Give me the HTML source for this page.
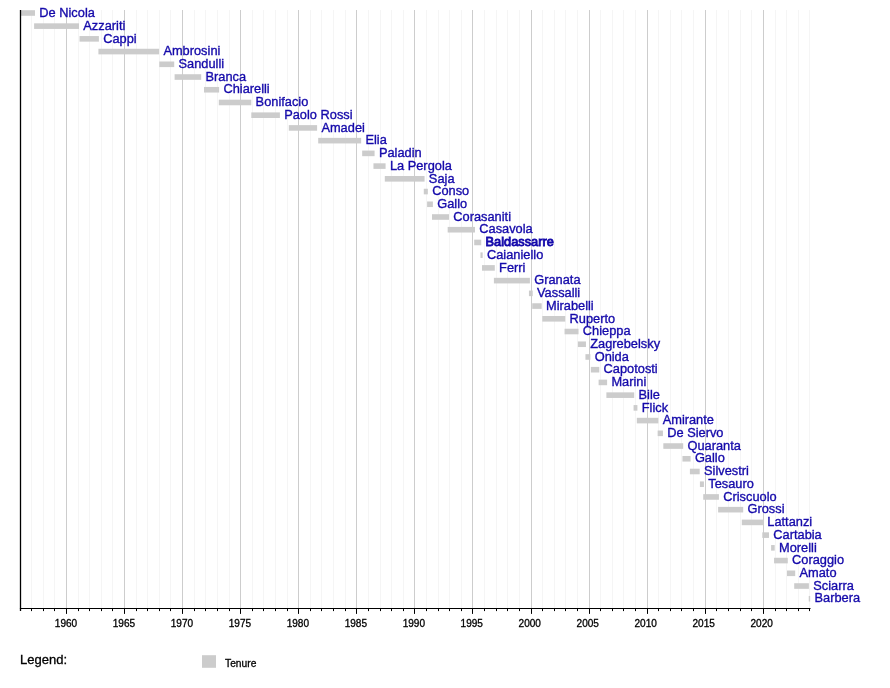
<!DOCTYPE html><html><head><meta charset="utf-8"><title>Timeline</title><style>html,body{margin:0;padding:0;background:#fff}svg{display:block}text{font-family:"Liberation Sans",sans-serif}</style></head><body>
<svg width="890" height="688" viewBox="0 0 890 688">
<rect width="890" height="688" fill="#fff"/>
<g><line x1="31.50" y1="10" x2="31.50" y2="608.5" stroke="#f5f5f5" stroke-width="1"/><line x1="43.50" y1="10" x2="43.50" y2="608.5" stroke="#f5f5f5" stroke-width="1"/><line x1="54.50" y1="10" x2="54.50" y2="608.5" stroke="#f5f5f5" stroke-width="1"/><line x1="66.50" y1="10" x2="66.50" y2="608.5" stroke="#cdcdcd" stroke-width="1"/><line x1="78.50" y1="10" x2="78.50" y2="608.5" stroke="#f5f5f5" stroke-width="1"/><line x1="89.50" y1="10" x2="89.50" y2="608.5" stroke="#f5f5f5" stroke-width="1"/><line x1="101.50" y1="10" x2="101.50" y2="608.5" stroke="#f5f5f5" stroke-width="1"/><line x1="112.50" y1="10" x2="112.50" y2="608.5" stroke="#f5f5f5" stroke-width="1"/><line x1="124.50" y1="10" x2="124.50" y2="608.5" stroke="#cdcdcd" stroke-width="1"/><line x1="136.50" y1="10" x2="136.50" y2="608.5" stroke="#f5f5f5" stroke-width="1"/><line x1="147.50" y1="10" x2="147.50" y2="608.5" stroke="#f5f5f5" stroke-width="1"/><line x1="159.50" y1="10" x2="159.50" y2="608.5" stroke="#f5f5f5" stroke-width="1"/><line x1="170.50" y1="10" x2="170.50" y2="608.5" stroke="#f5f5f5" stroke-width="1"/><line x1="182.50" y1="10" x2="182.50" y2="608.5" stroke="#cdcdcd" stroke-width="1"/><line x1="194.50" y1="10" x2="194.50" y2="608.5" stroke="#f5f5f5" stroke-width="1"/><line x1="205.50" y1="10" x2="205.50" y2="608.5" stroke="#f5f5f5" stroke-width="1"/><line x1="217.50" y1="10" x2="217.50" y2="608.5" stroke="#f5f5f5" stroke-width="1"/><line x1="229.50" y1="10" x2="229.50" y2="608.5" stroke="#f5f5f5" stroke-width="1"/><line x1="240.50" y1="10" x2="240.50" y2="608.5" stroke="#cdcdcd" stroke-width="1"/><line x1="252.50" y1="10" x2="252.50" y2="608.5" stroke="#f5f5f5" stroke-width="1"/><line x1="263.50" y1="10" x2="263.50" y2="608.5" stroke="#f5f5f5" stroke-width="1"/><line x1="275.50" y1="10" x2="275.50" y2="608.5" stroke="#f5f5f5" stroke-width="1"/><line x1="287.50" y1="10" x2="287.50" y2="608.5" stroke="#f5f5f5" stroke-width="1"/><line x1="298.50" y1="10" x2="298.50" y2="608.5" stroke="#cdcdcd" stroke-width="1"/><line x1="310.50" y1="10" x2="310.50" y2="608.5" stroke="#f5f5f5" stroke-width="1"/><line x1="321.50" y1="10" x2="321.50" y2="608.5" stroke="#f5f5f5" stroke-width="1"/><line x1="333.50" y1="10" x2="333.50" y2="608.5" stroke="#f5f5f5" stroke-width="1"/><line x1="345.50" y1="10" x2="345.50" y2="608.5" stroke="#f5f5f5" stroke-width="1"/><line x1="356.50" y1="10" x2="356.50" y2="608.5" stroke="#cdcdcd" stroke-width="1"/><line x1="368.50" y1="10" x2="368.50" y2="608.5" stroke="#f5f5f5" stroke-width="1"/><line x1="380.50" y1="10" x2="380.50" y2="608.5" stroke="#f5f5f5" stroke-width="1"/><line x1="391.50" y1="10" x2="391.50" y2="608.5" stroke="#f5f5f5" stroke-width="1"/><line x1="403.50" y1="10" x2="403.50" y2="608.5" stroke="#f5f5f5" stroke-width="1"/><line x1="414.50" y1="10" x2="414.50" y2="608.5" stroke="#cdcdcd" stroke-width="1"/><line x1="426.50" y1="10" x2="426.50" y2="608.5" stroke="#f5f5f5" stroke-width="1"/><line x1="438.50" y1="10" x2="438.50" y2="608.5" stroke="#f5f5f5" stroke-width="1"/><line x1="449.50" y1="10" x2="449.50" y2="608.5" stroke="#f5f5f5" stroke-width="1"/><line x1="461.50" y1="10" x2="461.50" y2="608.5" stroke="#f5f5f5" stroke-width="1"/><line x1="472.50" y1="10" x2="472.50" y2="608.5" stroke="#cdcdcd" stroke-width="1"/><line x1="484.50" y1="10" x2="484.50" y2="608.5" stroke="#f5f5f5" stroke-width="1"/><line x1="496.50" y1="10" x2="496.50" y2="608.5" stroke="#f5f5f5" stroke-width="1"/><line x1="507.50" y1="10" x2="507.50" y2="608.5" stroke="#f5f5f5" stroke-width="1"/><line x1="519.50" y1="10" x2="519.50" y2="608.5" stroke="#f5f5f5" stroke-width="1"/><line x1="531.50" y1="10" x2="531.50" y2="608.5" stroke="#cdcdcd" stroke-width="1"/><line x1="542.50" y1="10" x2="542.50" y2="608.5" stroke="#f5f5f5" stroke-width="1"/><line x1="554.50" y1="10" x2="554.50" y2="608.5" stroke="#f5f5f5" stroke-width="1"/><line x1="565.50" y1="10" x2="565.50" y2="608.5" stroke="#f5f5f5" stroke-width="1"/><line x1="577.50" y1="10" x2="577.50" y2="608.5" stroke="#f5f5f5" stroke-width="1"/><line x1="589.50" y1="10" x2="589.50" y2="608.5" stroke="#cdcdcd" stroke-width="1"/><line x1="600.50" y1="10" x2="600.50" y2="608.5" stroke="#f5f5f5" stroke-width="1"/><line x1="612.50" y1="10" x2="612.50" y2="608.5" stroke="#f5f5f5" stroke-width="1"/><line x1="623.50" y1="10" x2="623.50" y2="608.5" stroke="#f5f5f5" stroke-width="1"/><line x1="635.50" y1="10" x2="635.50" y2="608.5" stroke="#f5f5f5" stroke-width="1"/><line x1="647.50" y1="10" x2="647.50" y2="608.5" stroke="#cdcdcd" stroke-width="1"/><line x1="658.50" y1="10" x2="658.50" y2="608.5" stroke="#f5f5f5" stroke-width="1"/><line x1="670.50" y1="10" x2="670.50" y2="608.5" stroke="#f5f5f5" stroke-width="1"/><line x1="681.50" y1="10" x2="681.50" y2="608.5" stroke="#f5f5f5" stroke-width="1"/><line x1="693.50" y1="10" x2="693.50" y2="608.5" stroke="#f5f5f5" stroke-width="1"/><line x1="705.50" y1="10" x2="705.50" y2="608.5" stroke="#cdcdcd" stroke-width="1"/><line x1="716.50" y1="10" x2="716.50" y2="608.5" stroke="#f5f5f5" stroke-width="1"/><line x1="728.50" y1="10" x2="728.50" y2="608.5" stroke="#f5f5f5" stroke-width="1"/><line x1="740.50" y1="10" x2="740.50" y2="608.5" stroke="#f5f5f5" stroke-width="1"/><line x1="751.50" y1="10" x2="751.50" y2="608.5" stroke="#f5f5f5" stroke-width="1"/><line x1="763.50" y1="10" x2="763.50" y2="608.5" stroke="#cdcdcd" stroke-width="1"/><line x1="775.50" y1="10" x2="775.50" y2="608.5" stroke="#f5f5f5" stroke-width="1"/><line x1="786.50" y1="10" x2="786.50" y2="608.5" stroke="#f5f5f5" stroke-width="1"/><line x1="798.50" y1="10" x2="798.50" y2="608.5" stroke="#f5f5f5" stroke-width="1"/><line x1="809.50" y1="10" x2="809.50" y2="608.5" stroke="#f5f5f5" stroke-width="1"/></g>
<g><rect x="20.10" y="10.20" width="14.90" height="5.6" fill="#cccccc"/><rect x="34.10" y="23.32" width="44.90" height="5.6" fill="#cccccc"/><rect x="79.52" y="36.05" width="19.38" height="5.6" fill="#cccccc"/><rect x="98.42" y="48.77" width="60.66" height="5.6" fill="#cccccc"/><rect x="159.28" y="61.50" width="14.94" height="5.6" fill="#cccccc"/><rect x="174.60" y="74.23" width="26.60" height="5.6" fill="#cccccc"/><rect x="204.00" y="86.95" width="15.13" height="5.6" fill="#cccccc"/><rect x="218.80" y="99.68" width="32.50" height="5.6" fill="#cccccc"/><rect x="251.31" y="112.40" width="28.59" height="5.6" fill="#cccccc"/><rect x="288.80" y="125.12" width="28.30" height="5.6" fill="#cccccc"/><rect x="318.21" y="137.85" width="42.95" height="5.6" fill="#cccccc"/><rect x="362.17" y="150.57" width="12.42" height="5.6" fill="#cccccc"/><rect x="373.45" y="163.30" width="12.13" height="5.6" fill="#cccccc"/><rect x="384.81" y="176.02" width="39.75" height="5.6" fill="#cccccc"/><rect x="423.79" y="188.75" width="4.04" height="5.6" fill="#cccccc"/><rect x="427.10" y="201.47" width="5.80" height="5.6" fill="#cccccc"/><rect x="432.00" y="214.20" width="17.00" height="5.6" fill="#cccccc"/><rect x="447.67" y="226.92" width="27.32" height="5.6" fill="#cccccc"/><rect x="474.19" y="239.65" width="7.04" height="5.6" fill="#cccccc"/><rect x="480.46" y="252.38" width="2.21" height="5.6" fill="#cccccc"/><rect x="482.00" y="265.10" width="12.80" height="5.6" fill="#cccccc"/><rect x="493.90" y="277.82" width="36.00" height="5.6" fill="#cccccc"/><rect x="528.93" y="290.55" width="3.77" height="5.6" fill="#cccccc"/><rect x="532.22" y="303.27" width="9.45" height="5.6" fill="#cccccc"/><rect x="542.29" y="316.00" width="22.97" height="5.6" fill="#cccccc"/><rect x="564.56" y="328.72" width="13.96" height="5.6" fill="#cccccc"/><rect x="577.88" y="341.45" width="8.07" height="5.6" fill="#cccccc"/><rect x="585.43" y="354.17" width="4.93" height="5.6" fill="#cccccc"/><rect x="590.86" y="366.90" width="8.42" height="5.6" fill="#cccccc"/><rect x="598.60" y="379.62" width="8.51" height="5.6" fill="#cccccc"/><rect x="606.38" y="392.35" width="27.81" height="5.6" fill="#cccccc"/><rect x="633.58" y="405.07" width="3.83" height="5.6" fill="#cccccc"/><rect x="636.83" y="417.80" width="21.52" height="5.6" fill="#cccccc"/><rect x="657.65" y="430.52" width="5.28" height="5.6" fill="#cccccc"/><rect x="663.33" y="443.25" width="19.86" height="5.6" fill="#cccccc"/><rect x="682.46" y="455.97" width="8.13" height="5.6" fill="#cccccc"/><rect x="689.89" y="468.70" width="9.80" height="5.6" fill="#cccccc"/><rect x="699.92" y="481.42" width="4.00" height="5.6" fill="#cccccc"/><rect x="703.22" y="494.15" width="15.70" height="5.6" fill="#cccccc"/><rect x="718.10" y="506.87" width="25.10" height="5.6" fill="#cccccc"/><rect x="741.81" y="519.60" width="21.16" height="5.6" fill="#cccccc"/><rect x="762.30" y="532.33" width="6.70" height="5.6" fill="#cccccc"/><rect x="771.11" y="545.05" width="3.58" height="5.6" fill="#cccccc"/><rect x="774.08" y="557.77" width="13.70" height="5.6" fill="#cccccc"/><rect x="787.01" y="570.50" width="8.19" height="5.6" fill="#cccccc"/><rect x="794.20" y="583.23" width="14.70" height="5.6" fill="#cccccc"/><rect x="808.74" y="595.95" width="1.42" height="5.6" fill="#cccccc"/></g>
<g font-size="13.5" fill="#1409aa" stroke="#1409aa" stroke-width="0.36"><text transform="translate(39.30 16.70) scale(0.95 1)">De Nicola</text><text transform="translate(83.30 29.82) scale(0.95 1)">Azzariti</text><text transform="translate(103.20 42.55) scale(0.95 1)">Cappi</text><text transform="translate(163.38 55.27) scale(0.95 1)">Ambrosini</text><text transform="translate(178.52 68.00) scale(0.95 1)">Sandulli</text><text transform="translate(205.50 80.73) scale(0.95 1)">Branca</text><text transform="translate(223.43 93.45) scale(0.95 1)">Chiarelli</text><text transform="translate(255.60 106.18) scale(0.95 1)">Bonifacio</text><text transform="translate(284.20 118.90) scale(0.95 1)">Paolo Rossi</text><text transform="translate(321.40 131.62) scale(0.95 1)">Amadei</text><text transform="translate(365.46 144.35) scale(0.95 1)">Elia</text><text transform="translate(378.88 157.07) scale(0.95 1)">Paladin</text><text transform="translate(389.88 169.80) scale(0.95 1)">La Pergola</text><text transform="translate(428.86 182.52) scale(0.95 1)">Saja</text><text transform="translate(432.13 195.25) scale(0.95 1)">Conso</text><text transform="translate(437.20 207.97) scale(0.95 1)">Gallo</text><text transform="translate(453.30 220.70) scale(0.95 1)">Corasaniti</text><text transform="translate(479.29 233.42) scale(0.95 1)">Casavola</text><text transform="translate(485.53 246.15) scale(0.95 1)" stroke-width="0.9">Baldassarre</text><text transform="translate(486.98 258.88) scale(0.95 1)">Caianiello</text><text transform="translate(499.10 271.60) scale(0.95 1)">Ferri</text><text transform="translate(534.20 284.32) scale(0.95 1)">Granata</text><text transform="translate(537.00 297.05) scale(0.95 1)">Vassalli</text><text transform="translate(545.97 309.77) scale(0.95 1)">Mirabelli</text><text transform="translate(569.56 322.50) scale(0.95 1)">Ruperto</text><text transform="translate(582.82 335.22) scale(0.95 1)">Chieppa</text><text transform="translate(590.24 347.95) scale(0.95 1)">Zagrebelsky</text><text transform="translate(594.66 360.67) scale(0.95 1)">Onida</text><text transform="translate(603.57 373.40) scale(0.95 1)">Capotosti</text><text transform="translate(611.41 386.12) scale(0.95 1)">Marini</text><text transform="translate(638.49 398.85) scale(0.95 1)">Bile</text><text transform="translate(641.71 411.57) scale(0.95 1)">Flick</text><text transform="translate(662.66 424.30) scale(0.95 1)">Amirante</text><text transform="translate(667.23 437.02) scale(0.95 1)">De Siervo</text><text transform="translate(687.50 449.75) scale(0.95 1)">Quaranta</text><text transform="translate(694.89 462.47) scale(0.95 1)">Gallo</text><text transform="translate(703.99 475.20) scale(0.95 1)">Silvestri</text><text transform="translate(708.22 487.92) scale(0.95 1)">Tesauro</text><text transform="translate(723.22 500.65) scale(0.95 1)">Criscuolo</text><text transform="translate(747.50 513.38) scale(0.95 1)">Grossi</text><text transform="translate(767.27 526.10) scale(0.95 1)">Lattanzi</text><text transform="translate(773.30 538.83) scale(0.95 1)">Cartabia</text><text transform="translate(778.99 551.55) scale(0.95 1)">Morelli</text><text transform="translate(792.08 564.27) scale(0.95 1)">Coraggio</text><text transform="translate(799.51 577.00) scale(0.95 1)">Amato</text><text transform="translate(813.20 589.73) scale(0.95 1)">Sciarra</text><text transform="translate(814.46 602.45) scale(0.95 1)">Barbera</text></g>
<line x1="20.5" y1="10" x2="20.5" y2="611.1" stroke="#000" stroke-width="1.3"/>
<line x1="19.9" y1="608.5" x2="810.5" y2="608.5" stroke="#000" stroke-width="1.1"/>
<g><line x1="31.50" y1="608.5" x2="31.50" y2="611.1" stroke="#000" stroke-width="1"/><line x1="43.50" y1="608.5" x2="43.50" y2="611.1" stroke="#000" stroke-width="1"/><line x1="54.50" y1="608.5" x2="54.50" y2="611.1" stroke="#000" stroke-width="1"/><line x1="66.50" y1="608.5" x2="66.50" y2="613.9" stroke="#000" stroke-width="1"/><line x1="78.50" y1="608.5" x2="78.50" y2="611.1" stroke="#000" stroke-width="1"/><line x1="89.50" y1="608.5" x2="89.50" y2="611.1" stroke="#000" stroke-width="1"/><line x1="101.50" y1="608.5" x2="101.50" y2="611.1" stroke="#000" stroke-width="1"/><line x1="112.50" y1="608.5" x2="112.50" y2="611.1" stroke="#000" stroke-width="1"/><line x1="124.50" y1="608.5" x2="124.50" y2="613.9" stroke="#000" stroke-width="1"/><line x1="136.50" y1="608.5" x2="136.50" y2="611.1" stroke="#000" stroke-width="1"/><line x1="147.50" y1="608.5" x2="147.50" y2="611.1" stroke="#000" stroke-width="1"/><line x1="159.50" y1="608.5" x2="159.50" y2="611.1" stroke="#000" stroke-width="1"/><line x1="170.50" y1="608.5" x2="170.50" y2="611.1" stroke="#000" stroke-width="1"/><line x1="182.50" y1="608.5" x2="182.50" y2="613.9" stroke="#000" stroke-width="1"/><line x1="194.50" y1="608.5" x2="194.50" y2="611.1" stroke="#000" stroke-width="1"/><line x1="205.50" y1="608.5" x2="205.50" y2="611.1" stroke="#000" stroke-width="1"/><line x1="217.50" y1="608.5" x2="217.50" y2="611.1" stroke="#000" stroke-width="1"/><line x1="229.50" y1="608.5" x2="229.50" y2="611.1" stroke="#000" stroke-width="1"/><line x1="240.50" y1="608.5" x2="240.50" y2="613.9" stroke="#000" stroke-width="1"/><line x1="252.50" y1="608.5" x2="252.50" y2="611.1" stroke="#000" stroke-width="1"/><line x1="263.50" y1="608.5" x2="263.50" y2="611.1" stroke="#000" stroke-width="1"/><line x1="275.50" y1="608.5" x2="275.50" y2="611.1" stroke="#000" stroke-width="1"/><line x1="287.50" y1="608.5" x2="287.50" y2="611.1" stroke="#000" stroke-width="1"/><line x1="298.50" y1="608.5" x2="298.50" y2="613.9" stroke="#000" stroke-width="1"/><line x1="310.50" y1="608.5" x2="310.50" y2="611.1" stroke="#000" stroke-width="1"/><line x1="321.50" y1="608.5" x2="321.50" y2="611.1" stroke="#000" stroke-width="1"/><line x1="333.50" y1="608.5" x2="333.50" y2="611.1" stroke="#000" stroke-width="1"/><line x1="345.50" y1="608.5" x2="345.50" y2="611.1" stroke="#000" stroke-width="1"/><line x1="356.50" y1="608.5" x2="356.50" y2="613.9" stroke="#000" stroke-width="1"/><line x1="368.50" y1="608.5" x2="368.50" y2="611.1" stroke="#000" stroke-width="1"/><line x1="380.50" y1="608.5" x2="380.50" y2="611.1" stroke="#000" stroke-width="1"/><line x1="391.50" y1="608.5" x2="391.50" y2="611.1" stroke="#000" stroke-width="1"/><line x1="403.50" y1="608.5" x2="403.50" y2="611.1" stroke="#000" stroke-width="1"/><line x1="414.50" y1="608.5" x2="414.50" y2="613.9" stroke="#000" stroke-width="1"/><line x1="426.50" y1="608.5" x2="426.50" y2="611.1" stroke="#000" stroke-width="1"/><line x1="438.50" y1="608.5" x2="438.50" y2="611.1" stroke="#000" stroke-width="1"/><line x1="449.50" y1="608.5" x2="449.50" y2="611.1" stroke="#000" stroke-width="1"/><line x1="461.50" y1="608.5" x2="461.50" y2="611.1" stroke="#000" stroke-width="1"/><line x1="472.50" y1="608.5" x2="472.50" y2="613.9" stroke="#000" stroke-width="1"/><line x1="484.50" y1="608.5" x2="484.50" y2="611.1" stroke="#000" stroke-width="1"/><line x1="496.50" y1="608.5" x2="496.50" y2="611.1" stroke="#000" stroke-width="1"/><line x1="507.50" y1="608.5" x2="507.50" y2="611.1" stroke="#000" stroke-width="1"/><line x1="519.50" y1="608.5" x2="519.50" y2="611.1" stroke="#000" stroke-width="1"/><line x1="531.50" y1="608.5" x2="531.50" y2="613.9" stroke="#000" stroke-width="1"/><line x1="542.50" y1="608.5" x2="542.50" y2="611.1" stroke="#000" stroke-width="1"/><line x1="554.50" y1="608.5" x2="554.50" y2="611.1" stroke="#000" stroke-width="1"/><line x1="565.50" y1="608.5" x2="565.50" y2="611.1" stroke="#000" stroke-width="1"/><line x1="577.50" y1="608.5" x2="577.50" y2="611.1" stroke="#000" stroke-width="1"/><line x1="589.50" y1="608.5" x2="589.50" y2="613.9" stroke="#000" stroke-width="1"/><line x1="600.50" y1="608.5" x2="600.50" y2="611.1" stroke="#000" stroke-width="1"/><line x1="612.50" y1="608.5" x2="612.50" y2="611.1" stroke="#000" stroke-width="1"/><line x1="623.50" y1="608.5" x2="623.50" y2="611.1" stroke="#000" stroke-width="1"/><line x1="635.50" y1="608.5" x2="635.50" y2="611.1" stroke="#000" stroke-width="1"/><line x1="647.50" y1="608.5" x2="647.50" y2="613.9" stroke="#000" stroke-width="1"/><line x1="658.50" y1="608.5" x2="658.50" y2="611.1" stroke="#000" stroke-width="1"/><line x1="670.50" y1="608.5" x2="670.50" y2="611.1" stroke="#000" stroke-width="1"/><line x1="681.50" y1="608.5" x2="681.50" y2="611.1" stroke="#000" stroke-width="1"/><line x1="693.50" y1="608.5" x2="693.50" y2="611.1" stroke="#000" stroke-width="1"/><line x1="705.50" y1="608.5" x2="705.50" y2="613.9" stroke="#000" stroke-width="1"/><line x1="716.50" y1="608.5" x2="716.50" y2="611.1" stroke="#000" stroke-width="1"/><line x1="728.50" y1="608.5" x2="728.50" y2="611.1" stroke="#000" stroke-width="1"/><line x1="740.50" y1="608.5" x2="740.50" y2="611.1" stroke="#000" stroke-width="1"/><line x1="751.50" y1="608.5" x2="751.50" y2="611.1" stroke="#000" stroke-width="1"/><line x1="763.50" y1="608.5" x2="763.50" y2="613.9" stroke="#000" stroke-width="1"/><line x1="775.50" y1="608.5" x2="775.50" y2="611.1" stroke="#000" stroke-width="1"/><line x1="786.50" y1="608.5" x2="786.50" y2="611.1" stroke="#000" stroke-width="1"/><line x1="798.50" y1="608.5" x2="798.50" y2="611.1" stroke="#000" stroke-width="1"/><line x1="809.50" y1="608.5" x2="809.50" y2="611.1" stroke="#000" stroke-width="1"/></g>
<g fill="#000" stroke="#000" stroke-width="0.3"><text x="66.00" y="626.8" font-size="10.05" text-anchor="middle">1960</text><text x="123.97" y="626.8" font-size="10.05" text-anchor="middle">1965</text><text x="181.94" y="626.8" font-size="10.05" text-anchor="middle">1970</text><text x="239.91" y="626.8" font-size="10.05" text-anchor="middle">1975</text><text x="297.88" y="626.8" font-size="10.05" text-anchor="middle">1980</text><text x="355.85" y="626.8" font-size="10.05" text-anchor="middle">1985</text><text x="413.82" y="626.8" font-size="10.05" text-anchor="middle">1990</text><text x="471.79" y="626.8" font-size="10.05" text-anchor="middle">1995</text><text x="529.76" y="626.8" font-size="10.05" text-anchor="middle">2000</text><text x="587.73" y="626.8" font-size="10.05" text-anchor="middle">2005</text><text x="645.70" y="626.8" font-size="10.05" text-anchor="middle">2010</text><text x="703.67" y="626.8" font-size="10.05" text-anchor="middle">2015</text><text x="761.64" y="626.8" font-size="10.05" text-anchor="middle">2020</text></g>
<text x="20" y="663.8" font-size="13" fill="#000" stroke="#000" stroke-width="0.3">Legend:</text>
<rect x="202" y="655.2" width="14" height="12.6" fill="#cccccc"/>
<text x="225" y="667" font-size="10.25" fill="#000" stroke="#000" stroke-width="0.3">Tenure</text>
</svg></body></html>
